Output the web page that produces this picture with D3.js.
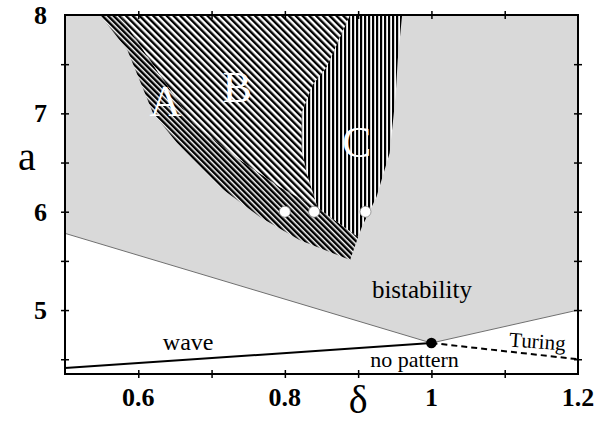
<!DOCTYPE html>
<html>
<head>
<meta charset="utf-8">
<script src="https://cdn.jsdelivr.net/npm/d3@7"></script>
<style>
  body { margin: 0; background: #fff; }
  svg { display: block; }
  text { font-family: "Liberation Serif", "Times New Roman", serif; }
</style>
</head>
<body>
<div id="chart"></div>
<script>
// Axis ticks
var xTicks = [0.6, 0.7, 0.8, 0.9, 1.0, 1.1];
var xLabels = [0.6, 0.8, 1.0, 1.2];
var yTicks = [4.5, 5, 5.5, 6, 6.5, 7, 7.5];
var yLabels = [5, 6, 7, 8];

// Boundary of the bistability region (thin grey line)
var bistabEdge = [[0.5, 5.78], [1.0, 4.665], [1.2, 5.0]];
// Wave / no pattern boundary (solid) and Turing boundary (dashed)
var waveLine = [[0.5, 4.41], [1.0, 4.665]];
var turingLine = [[1.0, 4.665], [1.2, 4.5]];

// Hatched regions (delta, a)
var regionA = [[0.548, 8], [0.585, 7.644], [0.620, 7.003], [0.653, 6.698], [0.711, 6.251],
  [0.766, 5.946], [0.820, 5.712], [0.889, 5.509], [0.900, 5.742], [0.845, 6.037],
  [0.793, 6.25], [0.739, 6.525], [0.675, 6.90], [0.625, 7.44], [0.575, 8]];
var regionB = [[0.575, 8], [0.625, 7.44], [0.675, 6.90], [0.739, 6.525], [0.793, 6.25],
  [0.845, 6.037], [0.830, 6.39], [0.823, 6.63], [0.823, 7.003], [0.838, 7.29],
  [0.857, 7.47], [0.889, 8]];
var regionC = [[0.889, 8], [0.857, 7.47], [0.838, 7.29], [0.823, 7.003], [0.823, 6.63],
  [0.830, 6.39], [0.845, 6.037], [0.900, 5.742], [0.905, 5.844], [0.925, 6.149],
  [0.943, 6.597], [0.951, 7.166], [0.954, 7.54], [0.960, 8]];

// Points
var openDots = [[0.80, 6.0], [0.84, 6.0], [0.91, 6.0]];
var codimPoint = [[1.0, 4.665]];

// Region labels
var regionLabels = [
  {t: "A", d: 0.637, a: 6.97},
  {t: "B", d: 0.735, a: 7.12},
  {t: "C", d: 0.898, a: 6.56}
];
var textLabels = [
  {t: "bistability", d: 0.987, a: 5.12, size: 25, rot: 0},
  {t: "wave", d: 0.668, a: 4.59, size: 24, rot: 0},
  {t: "no pattern", d: 0.977, a: 4.42, size: 22, rot: 0},
  {t: "Turing", d: 1.144, a: 4.61, size: 21, rot: 4}
];

var W = 602, H = 422;
var margin = {left: 65, right: 24, top: 15, bottom: 48};

var svg = d3.select("#chart").append("svg")
  .attr("width", W).attr("height", H);

var x = d3.scaleLinear().domain([0.5, 1.2]).range([margin.left, W - margin.right]);
var y = d3.scaleLinear().domain([4.35, 8]).range([H - margin.bottom, margin.top]);

var line = d3.line().x(function(d) { return x(d[0]); }).y(function(d) { return y(d[1]); });

// Stripe patterns
var defs = svg.append("defs");
function stripes(id, period, black, angle) {
  var p = defs.append("pattern")
    .attr("id", id)
    .attr("patternUnits", "userSpaceOnUse")
    .attr("width", period).attr("height", period)
    .attr("patternTransform", "rotate(" + angle + ")");
  p.append("rect").attr("width", period).attr("height", period).attr("fill", "#fff");
  p.append("rect").attr("width", black).attr("height", period).attr("fill", "#000");
}
stripes("hatchA", 4.0, 2.5, -45);
stripes("hatchB", 4.8, 2.4, -45);
stripes("hatchC", 4.0, 2.2, 0);

defs.append("clipPath").attr("id", "plotClip")
  .append("rect")
  .attr("x", x(0.5)).attr("y", y(8))
  .attr("width", x(1.2) - x(0.5)).attr("height", y(4.35) - y(8));

var plot = svg.append("g").attr("clip-path", "url(#plotClip)");

// grey bistability area
var greyArea = [[0.5, 8], [1.2, 8]].concat(bistabEdge.slice().reverse());
plot.append("path")
  .attr("d", line(greyArea) + "Z")
  .attr("fill", "#d9d9d9");

plot.append("path").attr("d", line(regionA) + "Z").attr("fill", "url(#hatchA)");
plot.append("path").attr("d", line(regionB) + "Z").attr("fill", "url(#hatchB)");
plot.append("path").attr("d", line(regionC) + "Z").attr("fill", "url(#hatchC)");

plot.append("path").attr("d", line(bistabEdge))
  .attr("fill", "none").attr("stroke", "#707070").attr("stroke-width", 1);
plot.append("path").attr("d", line(waveLine))
  .attr("fill", "none").attr("stroke", "#000").attr("stroke-width", 2);
plot.append("path").attr("d", line(turingLine))
  .attr("fill", "none").attr("stroke", "#000").attr("stroke-width", 2)
  .attr("stroke-dasharray", "6,4");

// region letters
plot.selectAll(".region-label")
  .data(regionLabels).enter()
  .append("text")
  .attr("class", "region-label")
  .attr("x", function(d) { return x(d.d); })
  .attr("y", function(d) { return y(d.a); })
  .attr("text-anchor", "middle")
  .style("font-size", "44px")
  .attr("fill", "#fff")
  .text(function(d) { return d.t; });

plot.selectAll(".open-dot")
  .data(openDots).enter()
  .append("circle")
  .attr("cx", function(d) { return x(d[0]); })
  .attr("cy", function(d) { return y(d[1]); })
  .attr("r", 5.5)
  .attr("fill", "#fff").attr("stroke", "#888").attr("stroke-width", 0.8);

plot.selectAll(".codim")
  .data(codimPoint).enter()
  .append("circle")
  .attr("cx", function(d) { return x(d[0]); })
  .attr("cy", function(d) { return y(d[1]); })
  .attr("r", 5.3)
  .attr("fill", "#000");

svg.selectAll(".phase-label")
  .data(textLabels).enter()
  .append("text")
  .attr("class", "phase-label")
  .attr("text-anchor", "middle")
  .attr("transform", function(d) {
    return "translate(" + x(d.d) + "," + y(d.a) + ") rotate(" + d.rot + ")";
  })
  .style("font-size", function(d) { return d.size + "px"; })
  .text(function(d) { return d.t; });

// Axes: ticks crossing the frame
function crossTicks(g, horiz) {
  g.select(".domain").remove();
  g.selectAll(".tick line")
    .attr(horiz ? "y1" : "x1", -4).attr(horiz ? "y2" : "x2", 4)
    .attr("stroke", "#000").attr("stroke-width", 1.5);
}
svg.append("g").attr("transform", "translate(0," + y(4.35) + ")")
  .call(d3.axisBottom(x).tickValues(xTicks).tickFormat(""))
  .call(crossTicks, true);
svg.append("g").attr("transform", "translate(0," + y(8) + ")")
  .call(d3.axisTop(x).tickValues(xTicks).tickFormat(""))
  .call(crossTicks, true);
svg.append("g").attr("transform", "translate(" + x(0.5) + ",0)")
  .call(d3.axisLeft(y).tickValues(yTicks).tickFormat(""))
  .call(crossTicks, false);
svg.append("g").attr("transform", "translate(" + x(1.2) + ",0)")
  .call(d3.axisRight(y).tickValues(yTicks).tickFormat(""))
  .call(crossTicks, false);

svg.append("rect")
  .attr("x", x(0.5)).attr("y", y(8))
  .attr("width", x(1.2) - x(0.5)).attr("height", y(4.35) - y(8))
  .attr("fill", "none").attr("stroke", "#000").attr("stroke-width", 2);

svg.selectAll(".xlab")
  .data(xLabels).enter()
  .append("text")
  .attr("x", function(d) { return x(d); })
  .attr("y", 406)
  .attr("text-anchor", "middle")
  .style("font-size", "26px").style("font-weight", "bold")
  .text(function(d) { return String(d); });

svg.selectAll(".ylab")
  .data(yLabels).enter()
  .append("text")
  .attr("x", 47)
  .attr("y", function(d) { return y(d) + 9; })
  .attr("text-anchor", "end")
  .style("font-size", "26px").style("font-weight", "bold")
  .text(function(d) { return String(d); });

// axis titles
svg.append("text")
  .attr("x", 27).attr("y", 170)
  .attr("text-anchor", "middle")
  .style("font-size", "40px")
  .text("a");
svg.append("text")
  .attr("x", x(0.9)).attr("y", 413)
  .attr("text-anchor", "middle")
  .style("font-size", "40px")
  .text("δ");
</script>
</body>
</html>
